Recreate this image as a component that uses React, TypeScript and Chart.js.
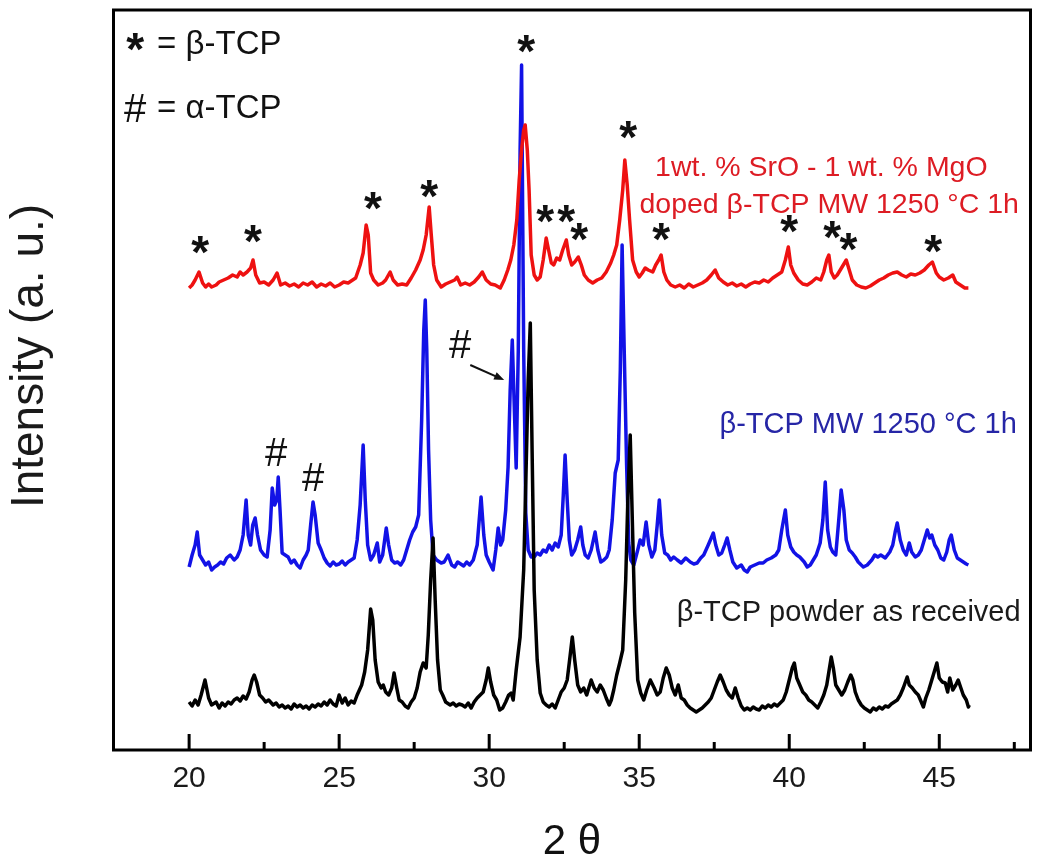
import React, { useEffect, useRef } from "react";
import { Chart, registerables } from "chart.js";

Chart.register(...registerables);

// ---- Data (2θ, intensity in arbitrary units; curves are vertically offset as in the figure) ----
const powderPoints: [number, number][] = [
  [20.0, 48], [20.1, 44], [20.2, 50], [20.3, 45], [20.4, 55], [20.53, 70], [20.65, 52], [20.75, 45],
  [20.9, 48], [21.0, 42], [21.1, 47], [21.2, 44], [21.3, 48], [21.4, 46], [21.5, 50], [21.6, 52],
  [21.7, 49], [21.8, 54], [21.9, 51], [22.0, 58], [22.1, 70], [22.17, 75], [22.25, 68], [22.35, 55],
  [22.45, 52], [22.55, 48], [22.65, 50], [22.8, 45], [22.9, 47], [23.0, 43], [23.1, 45], [23.2, 42],
  [23.3, 44], [23.4, 41], [23.5, 46], [23.6, 43], [23.7, 45], [23.8, 42], [23.9, 44], [24.0, 41],
  [24.1, 45], [24.2, 43], [24.3, 46], [24.4, 44], [24.5, 48], [24.6, 45], [24.7, 50], [24.8, 46],
  [24.9, 44], [25.0, 55], [25.1, 47], [25.2, 52], [25.3, 45], [25.4, 49], [25.5, 47], [25.6, 55],
  [25.75, 65], [25.85, 78], [25.95, 100], [26.05, 141], [26.12, 130], [26.2, 90], [26.3, 68],
  [26.4, 62], [26.47, 65], [26.55, 58], [26.65, 55], [26.75, 62], [26.83, 77], [26.92, 62],
  [27.0, 50], [27.1, 48], [27.2, 44], [27.3, 42], [27.4, 48], [27.5, 52], [27.6, 62], [27.7, 78],
  [27.8, 87], [27.9, 82], [27.97, 115], [28.05, 170], [28.13, 212], [28.2, 150], [28.28, 90],
  [28.37, 60], [28.45, 55], [28.55, 48], [28.7, 45], [28.8, 47], [28.9, 44], [29.0, 46], [29.1, 45],
  [29.2, 43], [29.3, 47], [29.4, 42], [29.5, 48], [29.6, 52], [29.7, 55], [29.8, 58], [29.9, 70],
  [29.97, 82], [30.05, 68], [30.15, 55], [30.25, 50], [30.35, 40], [30.45, 42], [30.55, 48],
  [30.65, 55], [30.73, 57], [30.8, 50], [30.9, 80], [31.03, 113], [31.15, 180], [31.23, 280],
  [31.3, 370], [31.37, 427], [31.43, 300], [31.5, 160], [31.6, 90], [31.7, 57], [31.8, 48],
  [31.9, 45], [32.0, 43], [32.1, 46], [32.2, 42], [32.3, 50], [32.4, 58], [32.5, 62], [32.6, 70],
  [32.7, 95], [32.77, 113], [32.85, 90], [32.95, 65], [33.05, 58], [33.15, 62], [33.25, 55],
  [33.4, 70], [33.5, 62], [33.6, 58], [33.7, 65], [33.8, 60], [33.9, 52], [34.0, 45], [34.07, 50],
  [34.15, 60], [34.25, 75], [34.35, 87], [34.45, 100], [34.55, 170], [34.62, 250], [34.7, 315],
  [34.77, 230], [34.85, 137], [34.95, 70], [35.05, 57], [35.15, 50], [35.25, 60], [35.37, 70],
  [35.5, 62], [35.6, 55], [35.7, 58], [35.8, 72], [35.9, 82], [36.0, 75], [36.1, 62], [36.2, 55],
  [36.3, 65], [36.4, 52], [36.5, 50], [36.6, 45], [36.7, 42], [36.8, 40], [36.9, 38], [37.0, 40],
  [37.1, 42], [37.2, 45], [37.3, 48], [37.4, 52], [37.5, 60], [37.6, 68], [37.7, 75], [37.8, 68],
  [37.9, 60], [38.0, 55], [38.1, 52], [38.2, 62], [38.3, 52], [38.4, 44], [38.5, 40], [38.6, 42],
  [38.7, 40], [38.8, 43], [38.9, 41], [39.0, 40], [39.1, 44], [39.2, 42], [39.3, 45], [39.4, 43],
  [39.5, 46], [39.6, 44], [39.7, 47], [39.8, 50], [39.9, 58], [40.0, 70], [40.1, 82], [40.17, 87],
  [40.25, 72], [40.35, 65], [40.45, 58], [40.55, 55], [40.65, 50], [40.75, 48], [40.85, 45],
  [40.95, 42], [41.05, 48], [41.15, 55], [41.25, 65], [41.33, 80], [41.4, 93], [41.47, 82],
  [41.55, 65], [41.65, 60], [41.75, 55], [41.85, 60], [41.95, 68], [42.05, 75], [42.12, 70],
  [42.2, 58], [42.3, 50], [42.4, 45], [42.5, 42], [42.6, 40], [42.7, 38], [42.8, 42], [42.9, 40],
  [43.0, 43], [43.1, 41], [43.2, 44], [43.3, 43], [43.4, 46], [43.5, 48], [43.6, 50], [43.7, 55],
  [43.8, 62], [43.93, 73], [44.0, 65], [44.1, 62], [44.2, 58], [44.3, 55], [44.4, 48], [44.47, 43],
  [44.55, 52], [44.65, 60], [44.75, 70], [44.85, 80], [44.92, 87], [45.0, 72], [45.1, 68],
  [45.2, 67], [45.28, 58], [45.35, 72], [45.45, 60], [45.55, 65], [45.63, 70], [45.72, 62],
  [45.8, 55], [45.9, 50], [45.97, 43], [46.0, 45],
];

const mwPoints: [number, number][] = [
  [20.0, 183], [20.1, 195], [20.2, 205], [20.27, 218], [20.35, 195], [20.45, 190], [20.55, 185],
  [20.65, 188], [20.75, 180], [20.85, 183], [20.95, 185], [21.05, 188], [21.15, 186], [21.25, 192],
  [21.37, 195], [21.5, 190], [21.6, 193], [21.7, 200], [21.8, 215], [21.9, 250], [21.97, 215],
  [22.05, 205], [22.12, 225], [22.2, 232], [22.28, 215], [22.38, 200], [22.5, 195], [22.6, 193],
  [22.7, 220], [22.77, 262], [22.85, 245], [22.92, 250], [22.97, 273], [23.03, 240], [23.1, 197],
  [23.2, 195], [23.3, 193], [23.4, 187], [23.5, 190], [23.6, 185], [23.7, 182], [23.8, 190],
  [23.9, 195], [23.97, 200], [24.05, 225], [24.13, 248], [24.2, 235], [24.3, 207], [24.4, 200],
  [24.5, 192], [24.6, 187], [24.7, 184], [24.8, 188], [24.9, 185], [25.0, 186], [25.1, 189],
  [25.2, 185], [25.3, 188], [25.4, 190], [25.5, 192], [25.6, 210], [25.7, 245], [25.8, 305],
  [25.87, 250], [25.95, 205], [26.05, 190], [26.15, 195], [26.27, 207], [26.35, 188], [26.45, 195],
  [26.57, 222], [26.65, 205], [26.75, 190], [26.85, 187], [26.95, 188], [27.05, 185], [27.15, 190],
  [27.25, 200], [27.35, 210], [27.45, 218], [27.55, 223], [27.65, 235], [27.75, 330], [27.82, 420],
  [27.87, 450], [27.92, 400], [27.98, 300], [28.05, 230], [28.13, 195], [28.25, 190], [28.4, 187],
  [28.5, 188], [28.63, 195], [28.75, 185], [28.85, 183], [28.95, 188], [29.05, 186], [29.15, 184],
  [29.25, 188], [29.35, 185], [29.47, 190], [29.6, 205], [29.73, 253], [29.82, 215], [29.9, 195],
  [30.0, 188], [30.13, 180], [30.22, 200], [30.3, 222], [30.38, 205], [30.45, 210], [30.55, 240],
  [30.63, 283], [30.7, 360], [30.77, 410], [30.85, 330], [30.9, 282], [30.97, 400], [31.03, 600],
  [31.08, 685], [31.15, 400], [31.22, 237], [31.3, 200], [31.4, 193], [31.5, 193], [31.6, 197],
  [31.7, 195], [31.8, 200], [31.9, 198], [32.0, 205], [32.1, 200], [32.2, 207], [32.3, 203],
  [32.4, 215], [32.47, 255], [32.53, 295], [32.6, 250], [32.67, 210], [32.75, 195], [32.85, 200],
  [32.95, 210], [33.05, 223], [33.12, 205], [33.2, 195], [33.3, 192], [33.4, 200], [33.53, 218],
  [33.62, 200], [33.72, 188], [33.82, 190], [33.92, 193], [34.0, 200], [34.1, 230], [34.2, 277],
  [34.3, 290], [34.37, 380], [34.43, 505], [34.5, 400], [34.58, 285], [34.65, 207], [34.72, 190],
  [34.82, 185], [34.95, 200], [35.03, 210], [35.13, 205], [35.23, 228], [35.32, 205], [35.42, 193],
  [35.52, 200], [35.6, 225], [35.67, 250], [35.75, 215], [35.85, 197], [35.95, 195], [36.05, 190],
  [36.15, 193], [36.27, 190], [36.4, 187], [36.55, 192], [36.7, 188], [36.82, 186], [36.93, 187],
  [37.05, 192], [37.15, 195], [37.3, 205], [37.4, 212], [37.47, 217], [37.55, 205], [37.65, 195],
  [37.75, 197], [37.85, 205], [37.93, 212], [38.02, 200], [38.12, 188], [38.25, 182], [38.4, 185],
  [38.5, 180], [38.6, 178], [38.7, 183], [38.85, 185], [39.0, 187], [39.13, 187], [39.25, 190],
  [39.4, 192], [39.55, 195], [39.65, 200], [39.75, 220], [39.87, 240], [39.95, 215], [40.05, 203],
  [40.15, 198], [40.25, 195], [40.35, 193], [40.5, 188], [40.6, 183], [40.7, 185], [40.8, 190],
  [40.9, 195], [41.03, 207], [41.12, 230], [41.2, 268], [41.28, 220], [41.37, 203], [41.45, 198],
  [41.55, 195], [41.65, 230], [41.73, 260], [41.82, 240], [41.9, 210], [42.0, 200], [42.1, 197],
  [42.2, 193], [42.3, 188], [42.4, 185], [42.47, 183], [42.6, 185], [42.75, 190], [42.85, 195],
  [42.95, 193], [43.05, 195], [43.2, 192], [43.35, 198], [43.45, 205], [43.53, 218], [43.6, 227],
  [43.7, 210], [43.8, 200], [43.9, 195], [44.0, 207], [44.08, 198], [44.2, 193], [44.3, 195],
  [44.4, 200], [44.5, 210], [44.6, 220], [44.68, 212], [44.75, 215], [44.85, 205], [44.95, 200],
  [45.05, 192], [45.15, 190], [45.25, 198], [45.33, 210], [45.4, 215], [45.5, 200], [45.6, 192],
  [45.7, 190], [45.8, 188], [45.9, 186], [45.97, 185],
];

const dopedPoints: [number, number][] = [
  [20.0, 462], [20.1, 465], [20.2, 470], [20.33, 478], [20.45, 467], [20.55, 463], [20.65, 466],
  [20.75, 463], [20.9, 465], [21.0, 468], [21.15, 470], [21.3, 472], [21.45, 475], [21.6, 473],
  [21.7, 478], [21.8, 475], [21.93, 478], [22.05, 482], [22.13, 490], [22.22, 475], [22.35, 467],
  [22.5, 468], [22.65, 465], [22.8, 470], [22.93, 477], [23.05, 465], [23.2, 467], [23.35, 464],
  [23.5, 466], [23.65, 463], [23.8, 467], [23.95, 465], [24.1, 468], [24.25, 463], [24.4, 466],
  [24.55, 464], [24.7, 467], [24.85, 463], [25.0, 465], [25.15, 468], [25.3, 467], [25.45, 470],
  [25.55, 472], [25.7, 485], [25.8, 497], [25.9, 525], [25.97, 515], [26.05, 477], [26.15, 470],
  [26.3, 465], [26.45, 467], [26.55, 470], [26.7, 478], [26.8, 470], [26.95, 465], [27.1, 466],
  [27.25, 465], [27.4, 472], [27.55, 480], [27.7, 490], [27.8, 500], [27.9, 515], [28.0, 543],
  [28.07, 515], [28.15, 485], [28.25, 470], [28.4, 463], [28.55, 466], [28.7, 468], [28.85, 470],
  [28.93, 473], [29.05, 465], [29.2, 467], [29.35, 465], [29.5, 468], [29.65, 473], [29.77, 478],
  [29.9, 470], [30.05, 466], [30.2, 465], [30.37, 462], [30.5, 470], [30.62, 480], [30.72, 490],
  [30.82, 505], [30.92, 530], [31.0, 570], [31.08, 600], [31.15, 620], [31.2, 625], [31.27, 600],
  [31.33, 560], [31.4, 495], [31.5, 475], [31.6, 470], [31.7, 473], [31.8, 490], [31.9, 512],
  [31.98, 500], [32.07, 487], [32.15, 485], [32.25, 492], [32.35, 490], [32.45, 500], [32.57, 510],
  [32.65, 495], [32.75, 485], [32.85, 488], [32.97, 493], [33.07, 485], [33.17, 475], [33.3, 470],
  [33.45, 467], [33.6, 470], [33.75, 472], [33.9, 478], [34.05, 487], [34.15, 495], [34.25, 505],
  [34.35, 530], [34.45, 560], [34.52, 590], [34.6, 565], [34.68, 530], [34.78, 490], [34.9, 478],
  [35.0, 473], [35.1, 477], [35.2, 482], [35.3, 480], [35.45, 478], [35.55, 485], [35.65, 490],
  [35.73, 495], [35.82, 478], [35.92, 470], [36.05, 465], [36.2, 463], [36.35, 465], [36.5, 462],
  [36.65, 466], [36.8, 463], [36.95, 465], [37.1, 467], [37.25, 470], [37.4, 475], [37.53, 480],
  [37.65, 472], [37.8, 468], [37.95, 465], [38.1, 467], [38.25, 464], [38.4, 466], [38.55, 463],
  [38.7, 466], [38.85, 468], [39.0, 467], [39.15, 470], [39.3, 468], [39.45, 472], [39.6, 475],
  [39.75, 478], [39.87, 490], [39.97, 503], [40.05, 485], [40.15, 477], [40.3, 470], [40.45, 466],
  [40.6, 465], [40.75, 468], [40.9, 472], [41.05, 470], [41.15, 478], [41.25, 490], [41.32, 495],
  [41.4, 478], [41.5, 472], [41.6, 475], [41.7, 480], [41.8, 485], [41.9, 490], [42.0, 480],
  [42.1, 470], [42.25, 465], [42.4, 463], [42.55, 462], [42.7, 464], [42.85, 467], [43.0, 470],
  [43.15, 472], [43.3, 475], [43.45, 477], [43.6, 478], [43.75, 475], [43.9, 473], [44.05, 476],
  [44.2, 475], [44.35, 477], [44.5, 480], [44.65, 485], [44.77, 488], [44.9, 477], [45.0, 473],
  [45.15, 470], [45.3, 472], [45.45, 475], [45.55, 468], [45.7, 465], [45.85, 462], [45.97, 462],
];

// Axis ticks (2θ)
const xTickValues = [20, 22.5, 25, 27.5, 30, 32.5, 35, 37.5, 40, 42.5, 45, 47.5];
const xMajorLabels = [20, 25, 30, 35, 40, 45];

// Peak markers (β-TCP "*" and α-TCP "#") in data coordinates
const betaMarkX = [20.37, 22.13, 26.13, 28.0, 31.23, 31.87, 32.57, 33.0, 34.63, 35.73, 40.0, 41.43, 41.97, 44.8];
const betaMarkY = [502, 513, 546, 558, 703, 533, 533, 515, 617, 515, 523, 517, 505, 503];
const alphaMarkX = [22.9, 24.13, 29.03];
const alphaMarkY = [297, 272, 405];
const arrowFrom = [29.37, 385];
const arrowTo = [30.5, 370];

// Texts
const seriesLabels = [
  { text: "1wt. % SrO - 1 wt. % MgO", x: 41.07, y: 582, color: "#dd1c24", size: 28.5 },
  { text: "doped β-TCP MW 1250 °C 1h", x: 41.33, y: 545, color: "#dd1c24", size: 28.5 },
  { text: "β-TCP MW 1250 °C 1h", x: 42.63, y: 325, color: "#2626a6", size: 29 },
  { text: "β-TCP powder as received", x: 41.98, y: 137, color: "#1a1a1a", size: 29 },
];
const legendLines = [
  { symbol: "*", text: "= β-TCP", x: 18.2, y: 705 },
  { symbol: "#", text: "= α-TCP", x: 18.2, y: 641 },
];

const FONT = '"Liberation Sans", Arial, Helvetica, sans-serif';
const STAR_FONT = `bold 46px ${FONT}`;
const STAR_OFFSET = 20;
const HASH_FONT = `40px ${FONT}`;
const HASH_OFFSET = 13;

const decorPlugin = {
  id: "decor",
  afterDatasetsDraw(chart: any) {
    const { ctx, chartArea: ca, scales } = chart;
    const xs = scales.x;
    const ys = scales.y;
    ctx.save();
    // frame
    ctx.strokeStyle = "#000";
    ctx.lineWidth = 3;
    ctx.strokeRect(ca.left, ca.top, ca.right - ca.left, ca.bottom - ca.top);
    // inward ticks on bottom axis
    ctx.lineWidth = 3;
    xTickValues.forEach((v) => {
      const px = xs.getPixelForValue(v);
      const len = xMajorLabels.includes(v) ? 16 : 8;
      ctx.beginPath();
      ctx.moveTo(px, ca.bottom);
      ctx.lineTo(px, ca.bottom - len);
      ctx.stroke();
    });
    // β markers
    ctx.fillStyle = "#111";
    ctx.textAlign = "center";
    ctx.textBaseline = "alphabetic";
    ctx.font = STAR_FONT;
    betaMarkX.forEach((v, i) => {
      ctx.fillText("*", xs.getPixelForValue(v), ys.getPixelForValue(betaMarkY[i]) + STAR_OFFSET);
    });
    // α markers
    ctx.font = HASH_FONT;
    alphaMarkX.forEach((v, i) => {
      ctx.fillText("#", xs.getPixelForValue(v), ys.getPixelForValue(alphaMarkY[i]) + HASH_OFFSET);
    });
    // arrow
    const ax0 = xs.getPixelForValue(arrowFrom[0]);
    const ay0 = ys.getPixelForValue(arrowFrom[1]);
    const ax1 = xs.getPixelForValue(arrowTo[0]);
    const ay1 = ys.getPixelForValue(arrowTo[1]);
    const ang = Math.atan2(ay1 - ay0, ax1 - ax0);
    ctx.strokeStyle = "#111";
    ctx.lineWidth = 2;
    ctx.beginPath();
    ctx.moveTo(ax0, ay0);
    ctx.lineTo(ax1 - 6 * Math.cos(ang), ay1 - 6 * Math.sin(ang));
    ctx.stroke();
    ctx.beginPath();
    ctx.moveTo(ax1, ay1);
    ctx.lineTo(ax1 - 10 * Math.cos(ang) + 4 * Math.sin(ang), ay1 - 10 * Math.sin(ang) - 4 * Math.cos(ang));
    ctx.lineTo(ax1 - 10 * Math.cos(ang) - 4 * Math.sin(ang), ay1 - 10 * Math.sin(ang) + 4 * Math.cos(ang));
    ctx.closePath();
    ctx.fill();
    // legend lines
    legendLines.forEach((l) => {
      const px = xs.getPixelForValue(l.x);
      const py = ys.getPixelForValue(l.y);
      ctx.fillStyle = "#111";
      ctx.textAlign = "center";
      ctx.textBaseline = "alphabetic";
      if (l.symbol === "*") {
        ctx.font = STAR_FONT;
        ctx.fillText("*", px, py + STAR_OFFSET);
      } else {
        ctx.font = HASH_FONT;
        ctx.fillText("#", px, py + HASH_OFFSET);
      }
      ctx.textAlign = "left";
      ctx.textBaseline = "middle";
      ctx.font = `33px ${FONT}`;
      ctx.fillText(l.text, px + 22, py);
    });
    // series labels
    seriesLabels.forEach((l) => {
      ctx.fillStyle = l.color;
      ctx.textAlign = "center";
      ctx.textBaseline = "middle";
      ctx.font = `${l.size}px ${FONT}`;
      ctx.fillText(l.text, xs.getPixelForValue(l.x), ys.getPixelForValue(l.y));
    });
    // y axis title
    ctx.save();
    ctx.translate(30, 356);
    ctx.rotate(-Math.PI / 2);
    ctx.fillStyle = "#1a1a1a";
    ctx.textAlign = "center";
    ctx.textBaseline = "middle";
    ctx.font = `46px ${FONT}`;
    ctx.fillText("Intensity (a. u.)", 0, 0);
    ctx.restore();
    ctx.restore();
  },
};

export default function App() {
  const canvasRef = useRef<HTMLCanvasElement | null>(null);

  useEffect(() => {
    const canvas = canvasRef.current;
    if (!canvas) return;
    const toXY = (pts: [number, number][]) => pts.map(([x, y]) => ({ x, y }));
    const lineStyle = { borderWidth: 3.5, pointRadius: 0, tension: 0, borderJoinStyle: "round" as const };
    const chart = new Chart(canvas, {
      type: "line",
      data: {
        datasets: [
          { label: "β-TCP powder as received", data: toXY(powderPoints), borderColor: "#000000", order: 0, ...lineStyle },
          {
            label: "1wt. % SrO - 1 wt. % MgO doped β-TCP MW 1250 °C 1h",
            data: toXY(dopedPoints),
            borderColor: "#ee1111",
            order: 1,
            ...lineStyle,
          },
          { label: "β-TCP MW 1250 °C 1h", data: toXY(mwPoints), borderColor: "#1212e6", order: 2, ...lineStyle },
        ],
      },
      options: {
        responsive: false,
        animation: false,
        layout: { padding: { left: 0, right: 19.5, top: 10, bottom: 0 } },
        plugins: {
          legend: { display: false },
          tooltip: { enabled: false },
        },
        scales: {
          x: {
            type: "linear",
            min: 17.48,
            max: 48.04,
            afterFit: (scale: any) => {
              scale.height = 118;
            },
            afterBuildTicks: (scale: any) => {
              scale.ticks = xTickValues.map((v) => ({ value: v }));
            },
            ticks: {
              autoSkip: false,
              maxRotation: 0,
              padding: 11,
              color: "#1a1a1a",
              font: { family: FONT, size: 30 },
              callback: (v: any) => (xMajorLabels.includes(Number(v)) ? String(v) : ""),
            },
            grid: { display: false, drawTicks: false },
            border: { display: false },
            title: {
              display: true,
              text: "2 θ",
              color: "#111",
              font: { family: FONT, size: 42 },
              padding: { top: 0, bottom: 0 },
            },
          },
          y: {
            type: "linear",
            min: 0,
            max: 740,
            afterFit: (scale: any) => {
              scale.width = 113.5;
            },
            ticks: { display: false },
            grid: { display: false, drawTicks: false },
            border: { display: false },
          },
        },
      },
      plugins: [decorPlugin],
    });
    return () => chart.destroy();
  }, []);

  return (
    <div style={{ position: "absolute", left: 0, top: 0, width: 1050, height: 868, background: "#fff" }}>
      <canvas ref={canvasRef} width={1050} height={868} style={{ width: 1050, height: 868, display: "block" }} />
    </div>
  );
}
